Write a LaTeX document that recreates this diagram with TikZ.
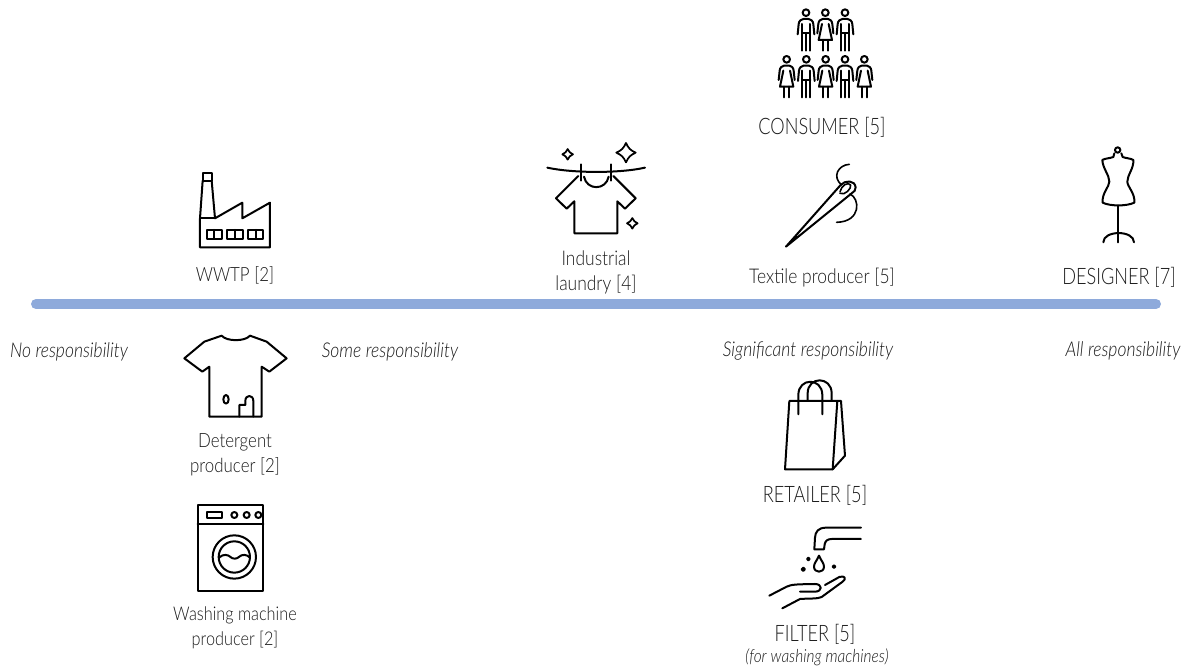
\documentclass[tikz,border=0pt]{standalone}
\usepackage{fontspec}
\setmainfont[FakeStretch=0.86,ItalicFont={Lato Light Italic}]{Lato Light}
\newfontfamily\capfont[FakeStretch=0.8]{Lato Light}
\definecolor{barblue}{HTML}{8EAADB}
\definecolor{ink}{HTML}{1A1A1A}
\tikzset{
  x=0.75pt,y=-0.75pt,
  txt/.style={font=\fontsize{14.7pt}{18.75pt}\selectfont,text=ink,align=center,inner sep=0pt},
  txtbig/.style={font=\capfont\fontsize{17pt}{18.75pt}\selectfont,text=ink,align=center,inner sep=0pt},
  ital/.style={font=\itshape\fontsize{15.3pt}{16pt}\selectfont,text=ink,align=center,inner sep=0pt},
  italsmall/.style={font=\itshape\fontsize{13.5pt}{16pt}\selectfont,text=ink,align=center,inner sep=0pt},
  ico/.style={draw=black,line width=1.5pt,line join=round,line cap=round},
  manicon/.pic={
    \draw[ico] (0,38) circle (10);
    \draw[ico] (-25,103) -- (-22,72) .. controls (-21,62) and (-14,58) .. (-8,57) -- (8,57) .. controls (14,58) and (21,62) .. (22,72) -- (25,103);
    \draw[ico] (-12,72) -- (-12,152) (12,72) -- (12,152) (0,100) -- (0,152) (-12,100) -- (12,100);
  },
  womanicon/.pic={
    \draw[ico] (0,38) circle (10);
    \draw[ico] (-24,100) -- (-21,72) .. controls (-20,62) and (-14,58) .. (-8,57) -- (8,57) .. controls (14,58) and (20,62) .. (21,72) -- (24,100);
    \draw[ico] (-10,72) -- (-20,120) -- (20,120) -- (10,72);
    \draw[ico] (-8,120) -- (-8,152) (8,120) -- (8,152);
  },
  sparkle/.pic={
    \draw[ico,line width=1.3pt] (0,-1) .. controls (0.25,-0.45) and (0.45,-0.25) .. (1,0) .. controls (0.45,0.25) and (0.25,0.45) .. (0,1) .. controls (-0.25,0.45) and (-0.45,0.25) .. (-1,0) .. controls (-0.45,-0.25) and (-0.25,-0.45) .. cycle;
  },
  personsize/.style={scale=0.3333},
}
\begin{document}
\begin{tikzpicture}
\useasboundingbox (0,0) rectangle (1189,670);
% bar
\draw[barblue,line width=7.5pt,line cap=round] (36,304) -- (1156,304);
% texts
\node[txt] (wwtp) at (235,275) {WWTP [2]};
\node[txt,font=\fontsize{15.2pt}{18.75pt}\selectfont] (laundry) at (596,272.5) {Industrial\\laundry [4]};
\node[txt,font=\fontsize{15.2pt}{18.75pt}\selectfont] (textile) at (822,278) {Textile producer [5]};
\node[txtbig] (designer) at (1119,277) {DESIGNER [7]};
\node[txtbig] (consumer) at (822,127) {CONSUMER [5]};
\node[ital] (none) at (69,352) {No responsibility};
\node[ital] (some) at (390,352) {Some responsibility};
\node[ital] (signif) at (808,351) {Significant responsibility};
\node[ital] (allr) at (1123,351) {All responsibility};
\node[txt] (deterg) at (235,455) {Detergent\\producer [2]};
\node[txtbig] (retailer) at (815,495) {RETAILER [5]};
\node[txt,font=\fontsize{14.2pt}{18.75pt}\selectfont] (washer) at (235,628) {Washing machine\\producer [2]};
\node[txtbig] (filter) at (815,634) {FILTER [5]};
\node[italsmall] (filternote) at (817,657) {(for washing machines)};
% consumers
\begin{scope}[shift={(740,0)},scale=0.3333]
\pic[personsize] at (198,0) {manicon};
\pic[personsize] at (256,0) {womanicon};
\pic[personsize] at (315,0) {manicon};
\pic[personsize] at (140,140) {womanicon};
\pic[personsize] at (199,140) {manicon};
\pic[personsize] at (257,140) {womanicon};
\pic[personsize] at (315,140) {manicon};
\pic[personsize] at (373,140) {womanicon};
\end{scope}
% laundry + needle
\begin{scope}[shift={(530,130)},scale=0.3333]
\draw[ico] (52,113) .. controls (130,130) and (270,130) .. (345,113);
\draw[ico] (153,103) -- (153,152) (243,103) -- (243,152);
\draw[ico] (145,138) -- (78,205) -- (110,236) -- (133,214) -- (133,310) -- (262,310) -- (262,214) -- (285,236) -- (317,205) -- (250,138);
\draw[ico] (162,140) .. controls (170,182) and (228,182) .. (236,140);
\pic[scale=5.3] at (113,73) {sparkle};
\pic[scale=9.7] at (288,68) {sparkle};
\pic[scale=5.3] at (307,280) {sparkle};
% needle
\draw[ico] (768,350) -- (932,165) .. controls (945,150) and (975,150) .. (977,172) .. controls (978,180) and (972,186) .. (965,190) -- cycle;
\draw[ico,line width=1.2pt] (930,185) .. controls (935,165) and (955,155) .. (962,165) .. controls (965,175) and (945,198) .. (930,190) ;
\draw[ico,line width=1.2pt] (958,103) .. controls (925,105) and (905,140) .. (935,165);
\draw[ico,line width=1.2pt] (960,192) .. controls (990,205) and (995,275) .. (920,277);
\end{scope}
% factory
\begin{scope}[shift={(170,160)},scale=0.3333]
\draw[ico] (98,40) -- (125,40) -- (125,62) -- (98,62) -- cycle;
\draw[ico] (98,62) -- (90,175) -- (90,262) -- (300,262) -- (300,128) -- (217,175) -- (217,128) -- (135,175) -- (125,62);
\draw[ico] (90,175) -- (135,175);
\draw[ico] (110,210) rectangle (157,237) (133,210) -- (133,237);
\draw[ico] (172,210) rectangle (218,237) (195,210) -- (195,237);
\draw[ico] (235,210) rectangle (280,237) (257,210) -- (257,237);
\end{scope}
% detergent shirt
\begin{scope}[shift={(170,325)},scale=0.3333]
\draw[ico] (155,32) .. controls (170,50) and (225,50) .. (240,32) -- (290,50) -- (350,100) -- (298,140) -- (275,125) -- (275,275) -- (118,275) -- (118,125) -- (97,140) -- (43,100) -- (103,50) -- cycle;
\draw[ico] (168,223) ellipse (8 and 13);
\draw[ico] (208,275) -- (208,240) -- (226,240) -- (226,228) .. controls (226,208) and (250,208) .. (250,228) -- (250,275);
\end{scope}
% washing machine
\begin{scope}[shift={(180,495)},scale=0.3333]
\draw[ico] (53,30) rectangle (250,288);
\draw[ico] (53,88) -- (250,88);
\draw[ico] (82,52) rectangle (125,70);
\draw[ico] (163,60) circle (9) (200,60) circle (9) (235,60) circle (9);
\draw[ico] (163,186) circle (65) (163,186) circle (47);
\draw[ico] (117,188) .. controls (130,175) and (145,180) .. (150,185) .. controls (158,193) and (170,193) .. (178,185) .. controls (185,178) and (200,177) .. (210,188);
\end{scope}
% bag
\begin{scope}[shift={(760,370)},scale=0.3333]
\draw[ico] (88,93) -- (243,93) -- (255,257) -- (218,298) -- (75,298) -- cycle;
\draw[ico] (232,93) -- (218,298);
\draw[ico] (115,133) -- (115,75) .. controls (115,22) and (187,22) .. (187,75) -- (187,133);
\draw[ico] (143,93) -- (143,70) .. controls (143,18) and (215,18) .. (215,70) -- (215,93);
\end{scope}
% tap and hand
\begin{scope}[shift={(750,515)},scale=0.3333]
\draw[ico] (333,38) -- (228,38) .. controls (205,38) and (196,50) .. (195,68) -- (193,103) -- (222,103) -- (224,88) .. controls (226,78) and (232,72) .. (245,72) -- (333,72);
\draw[ico] (207,122) .. controls (200,138) and (192,145) .. (192,155) .. controls (192,175) and (222,175) .. (222,155) .. controls (222,145) and (214,138) .. (207,122) -- cycle;
\draw[ico] (175,132) circle (4) (160,163) circle (5) (252,155) circle (4);
\draw[ico] (58,242) -- (110,215) .. controls (125,208) and (140,208) .. (195,207) .. controls (218,207) and (218,230) .. (195,230) -- (150,230);
\draw[ico] (225,210) -- (268,186) .. controls (285,180) and (290,192) .. (278,200) -- (215,246) .. controls (205,252) and (175,250) .. (150,252) -- (97,280);
\end{scope}
% mannequin
\begin{scope}[shift={(1040,135)},scale=0.3333]
\draw[ico] (233,45) circle (8);
\draw[ico] (223,55) -- (220,66) .. controls (210,70) and (195,70) .. (187,75) .. controls (188,100) and (208,120) .. (208,140) .. controls (208,155) and (185,175) .. (188,203) .. controls (210,214) and (260,214) .. (283,203) .. controls (286,175) and (262,155) .. (262,140) .. controls (262,120) and (282,100) .. (280,75) .. controls (272,70) and (258,70) .. (248,66) -- (244,55);
\draw[ico] (235,212) -- (235,322);
\draw[ico] (190,322) .. controls (190,285) and (282,285) .. (282,322);
\end{scope}
\end{tikzpicture}
\end{document}
